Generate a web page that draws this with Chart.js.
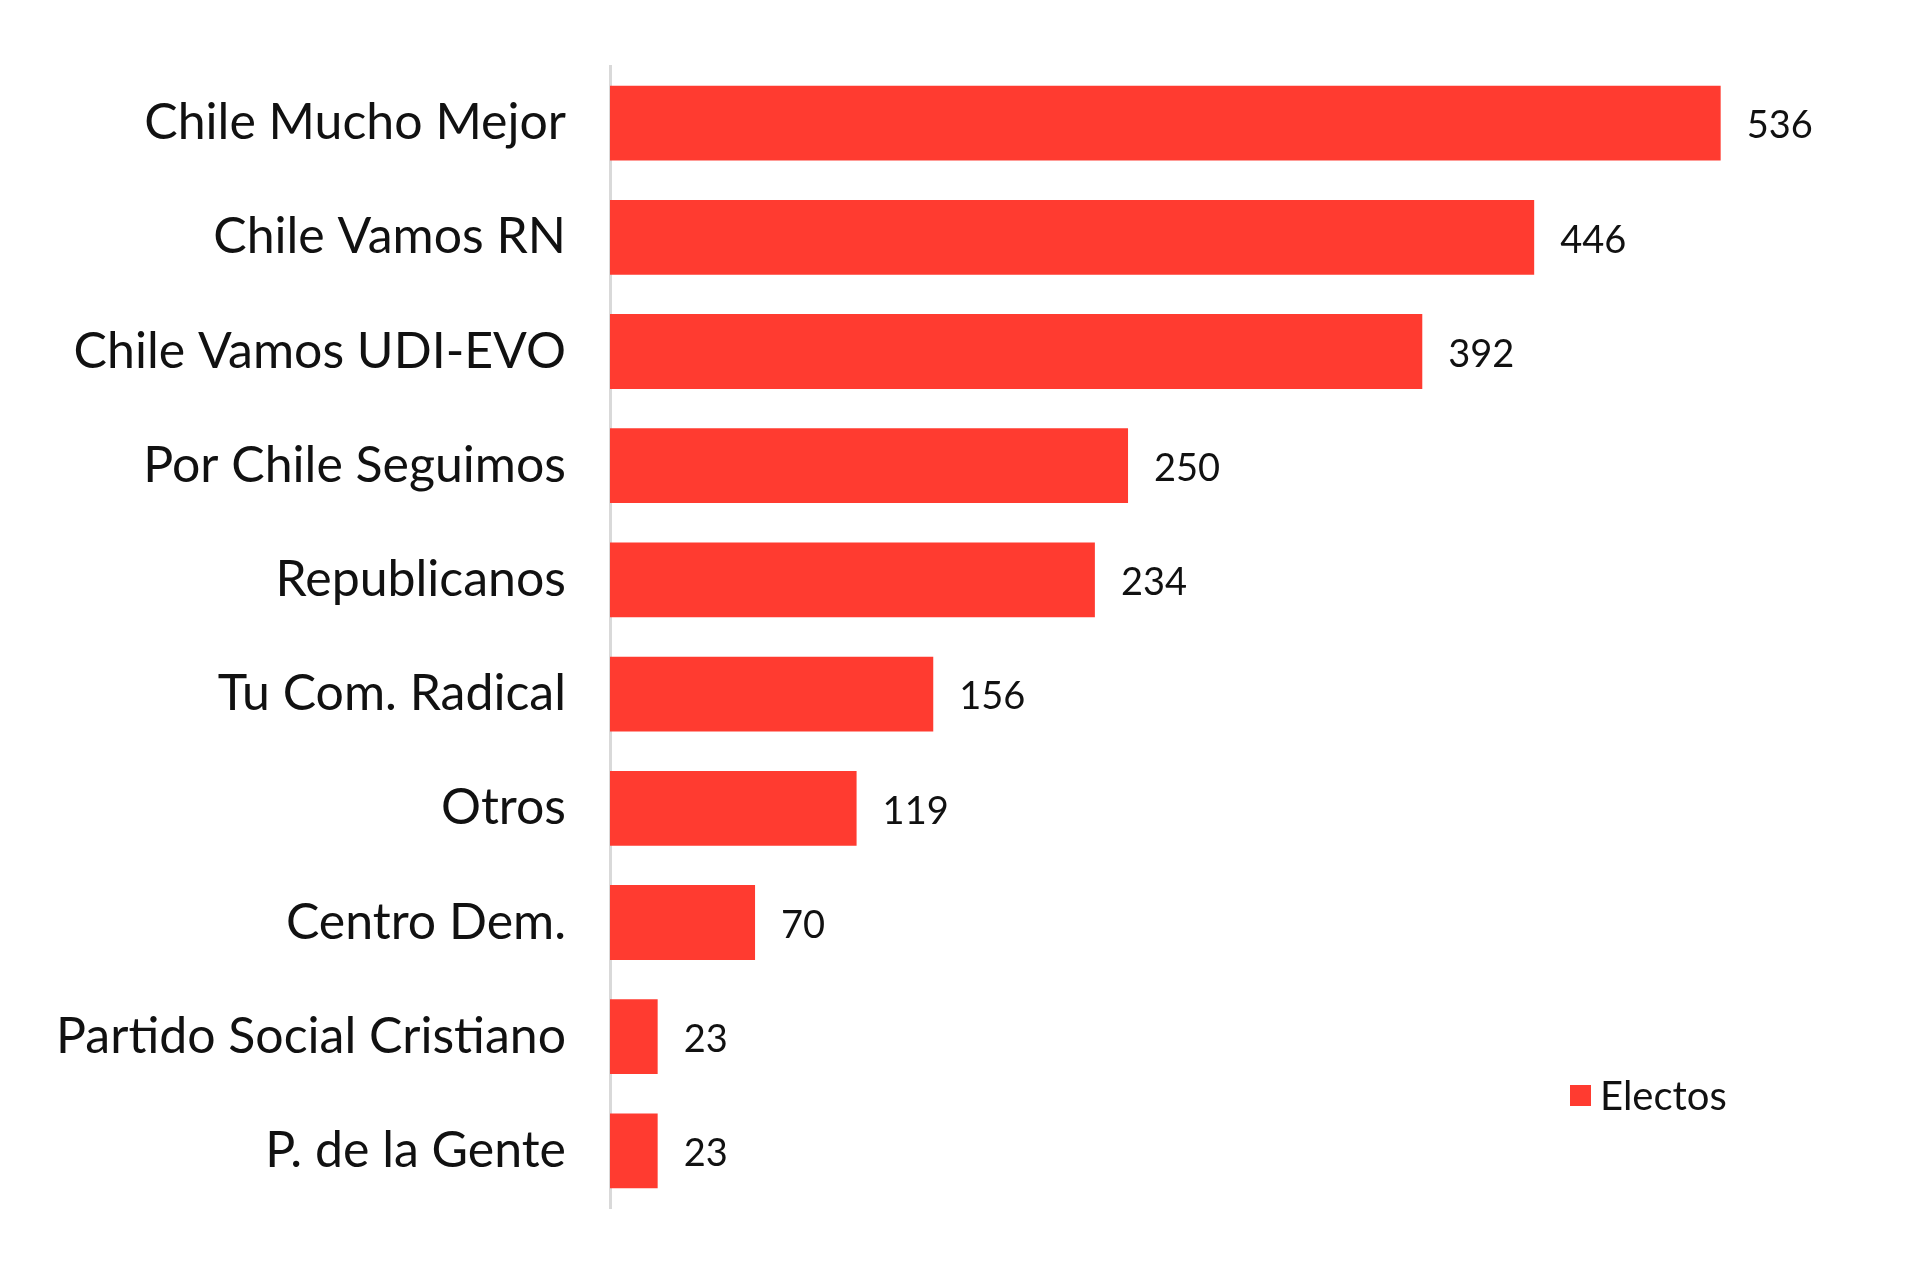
<!DOCTYPE html>
<html><head><meta charset="utf-8">
<script src="https://cdn.jsdelivr.net/npm/chart.js@4"></script>
<style>html,body{margin:0;padding:0;background:#fff;overflow:hidden}</style>
</head><body><canvas id="c" width="1911" height="1274" style="width:1911px;height:1274px;display:block"></canvas>
<script>
const categories = ["Chile Mucho Mejor","Chile Vamos RN","Chile Vamos UDI-EVO","Por Chile Seguimos","Republicanos","Tu Com. Radical","Otros","Centro Dem.","Partido Social Cristiano","P. de la Gente"];
const electos = [536,446,392,250,234,156,119,70,23,23];
const seriesName = "Electos";
const RED = "#ff3b30";
const FONT = "Lato, 'DejaVu Sans', sans-serif";

const valueLabels = {
  id:'valueLabels',
  afterDatasetsDraw(chart){
    const ctx=chart.ctx, meta=chart.getDatasetMeta(0);
    ctx.save();ctx.font="38px "+FONT;ctx.fillStyle="#111";ctx.textBaseline="middle";ctx.textAlign="left";
    meta.data.forEach((b,i)=>ctx.fillText(String(electos[i]), b.x+26, b.y+3));
    const a=chart.chartArea;
    const lx=a.left+960, ly=a.bottom-113;
    ctx.fillStyle=RED;ctx.fillRect(lx,ly-10,21,21);
    ctx.fillStyle="#111";ctx.font="40px "+FONT;ctx.fillText(seriesName,lx+30,ly+2);
    ctx.restore();
  }
};

new Chart(document.getElementById('c'),{
  type:'bar',
  data:{labels:categories,datasets:[{label:seriesName,data:electos,backgroundColor:RED,categoryPercentage:1,barPercentage:0.655}]},
  options:{
    indexAxis:'y',responsive:false,animation:false,devicePixelRatio:1,
    layout:{padding:{top:55,bottom:12,right:66,left:0}},
    plugins:{legend:{display:false},tooltip:{enabled:false}},
    scales:{
      x:{display:false,min:0,max:596},
      y:{
        grid:{display:false},
        border:{display:true,color:"#d9d9d9",width:3},
        ticks:{color:"#111",font:{family:FONT,size:50},padding:36},
        afterFit(s){s.width=610;}
      }
    }
  },
  plugins:[valueLabels]
});
</script></body></html>
